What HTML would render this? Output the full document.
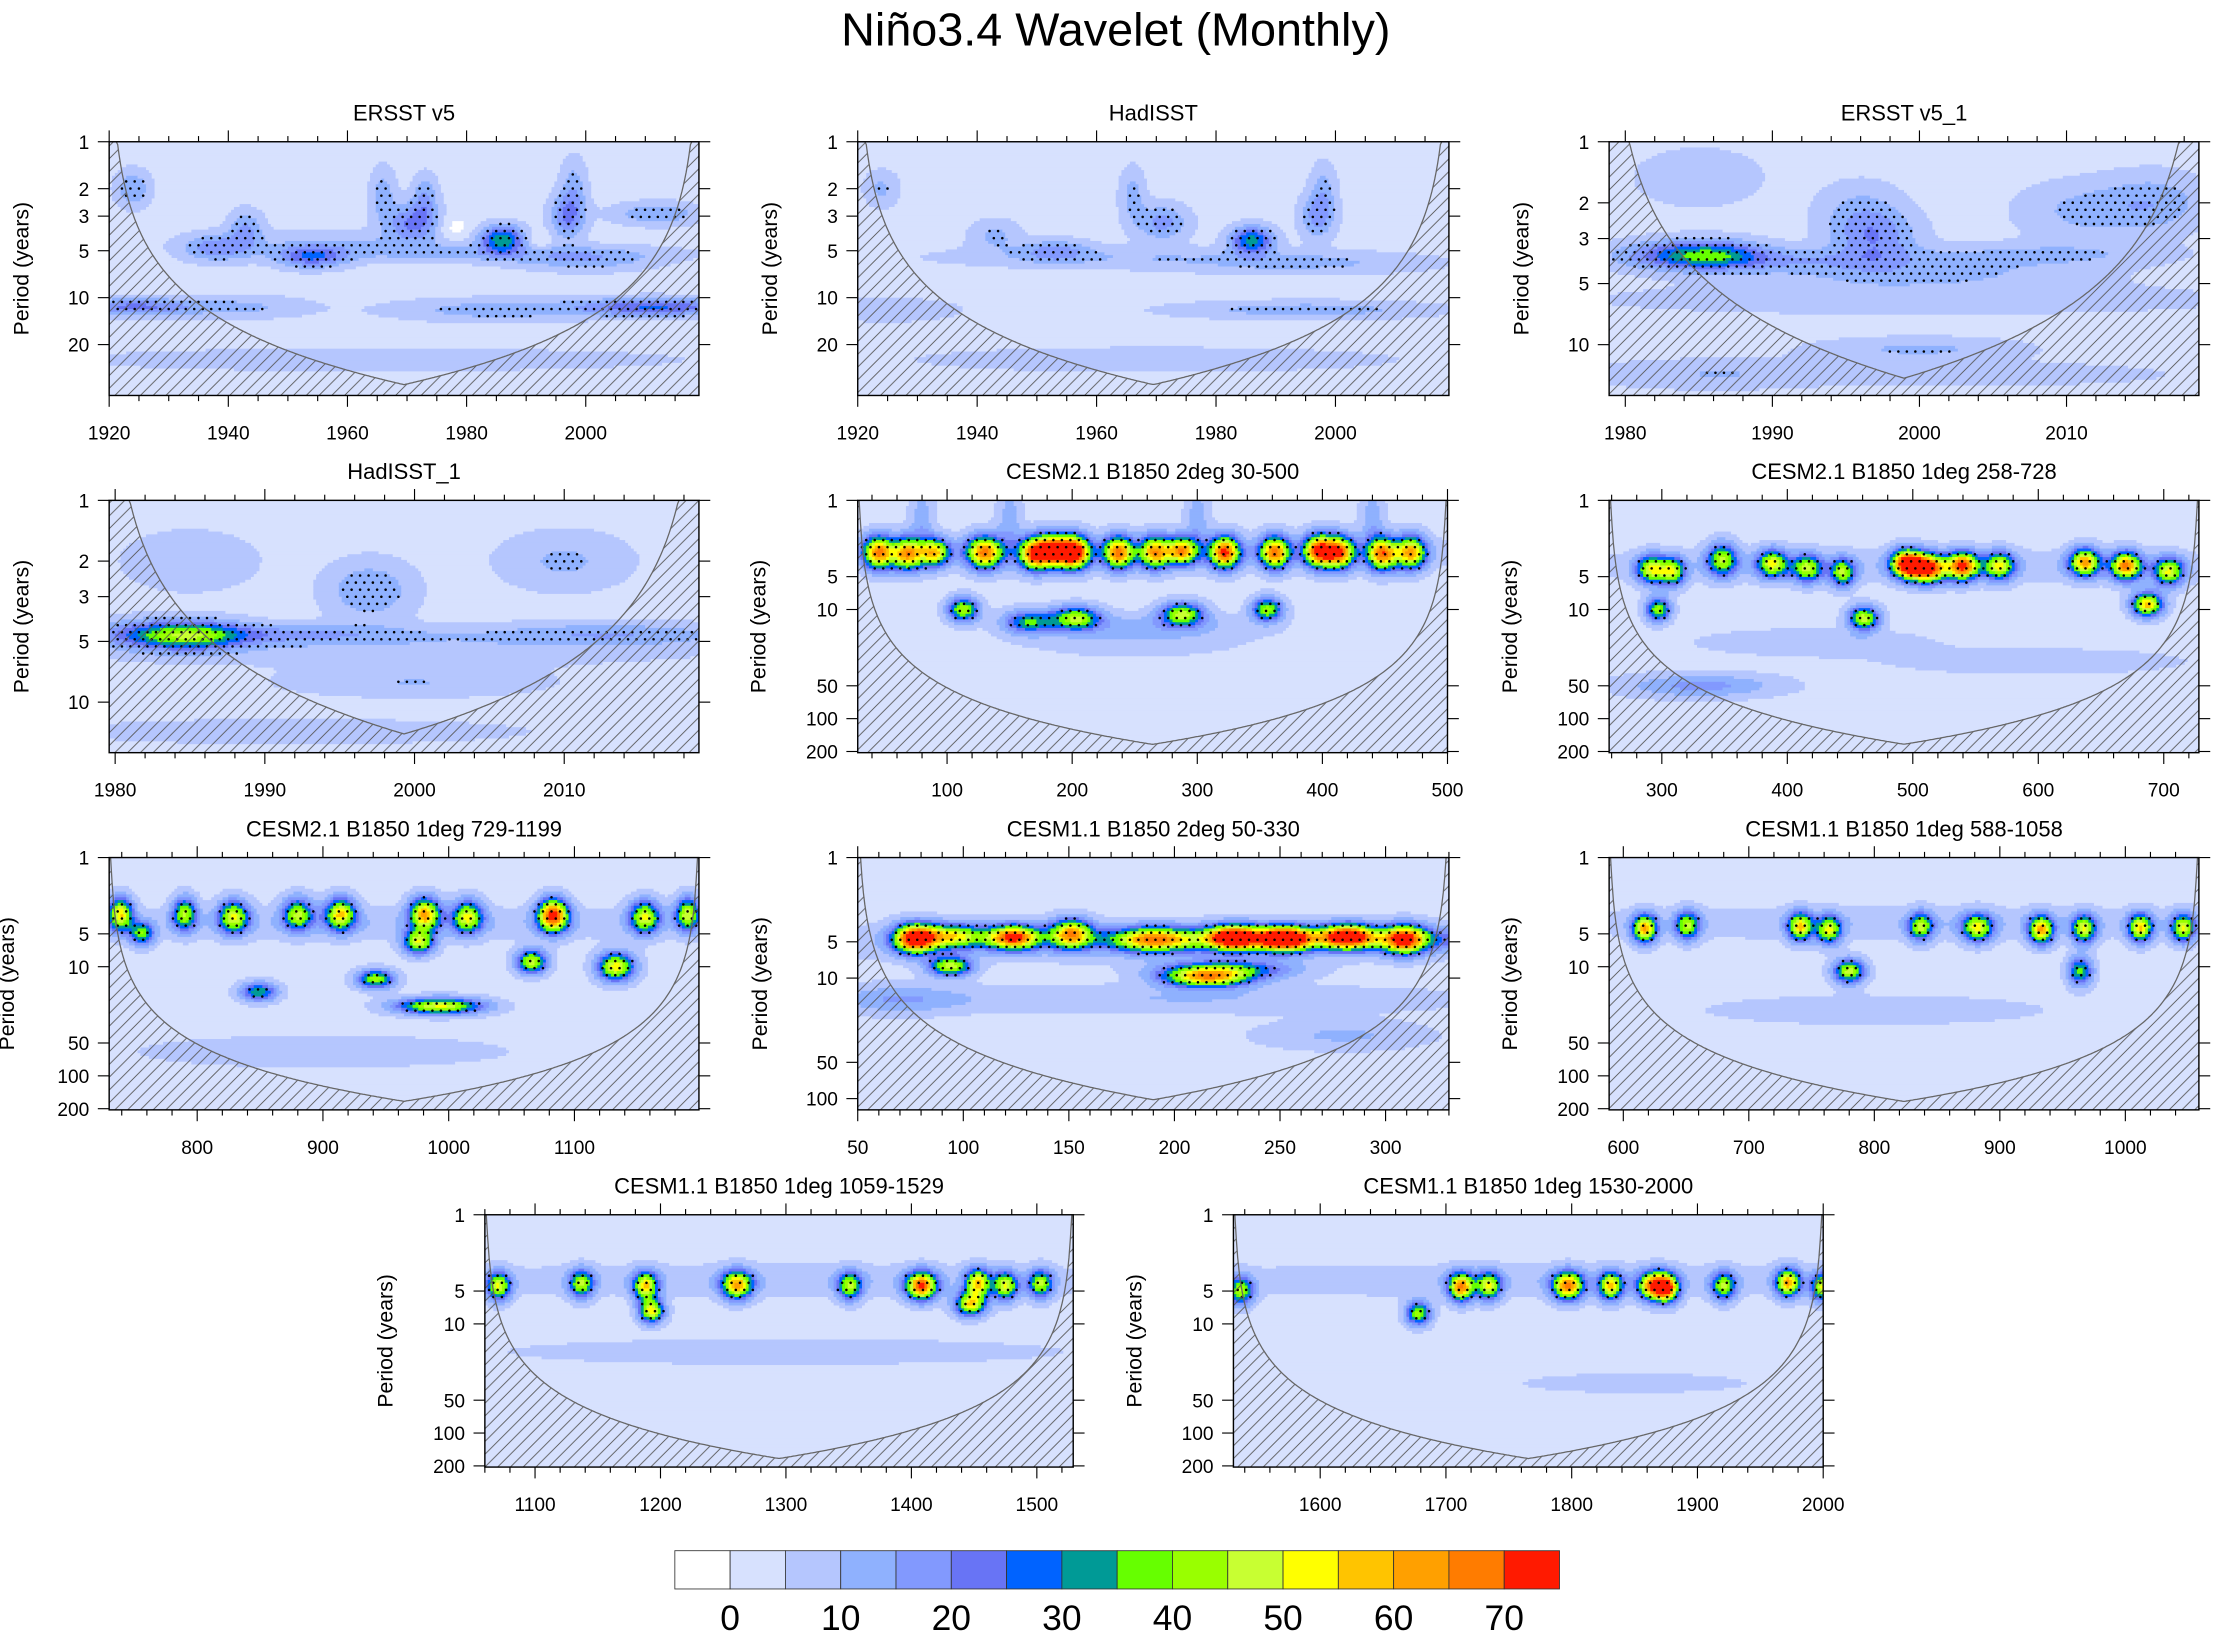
<!DOCTYPE html>
<html><head><meta charset="utf-8"><title>Niño3.4 Wavelet</title>
<style>html,body{margin:0;padding:0;background:#fff}svg{display:block;font-family:"Liberation Sans",Arial,sans-serif}</style>
</head><body>
<svg id="chart" xmlns="http://www.w3.org/2000/svg" width="2223" height="1640" viewBox="0 0 1568 1157" preserveAspectRatio="none">
<defs>
<pattern id="hatch" patternUnits="userSpaceOnUse" width="9" height="9">
<line x1="-1" y1="10" x2="10" y2="-1" stroke="#555" stroke-width="0.6"/>
<line x1="-1" y1="1" x2="1" y2="-1" stroke="#555" stroke-width="0.6"/>
<line x1="8" y1="10" x2="10" y2="8" stroke="#555" stroke-width="0.6"/>
</pattern>
</defs>
<text x="787" y="32" text-anchor="middle" font-size="33">Niño3.4 Wavelet (Monthly)</text>
<g id="panels"></g>
<g id="colorbar"></g>
</svg>
<script>
// ---- data: blobs [time, period(years), power, sigmaTime, sigmaLog10Period]
const ersstBlobs=[[1924,2,12,2,0.08],[1938,4.8,14,4,0.06],[1943,3.6,12,2,0.08],[1954,5.5,20,4,0.05],[1971,3.3,18,3,0.08],[1966,2.2,10,1.5,0.12],[1973,2.3,12,1.5,0.1],[1986,4.2,30,2.5,0.06],[1997,3,18,2,0.1],[1998,1.9,9,1.5,0.12],[2012,2.9,12,5,0.05],[1985,5.2,8,20,0.04],[1924,11.5,18,7,0.04],[1942,11.5,8,8,0.05],[2012,11.5,22,9,0.04],[1985,12,10,12,0.05],[1965,25,6,35,0.05],[2000,5.8,9,8,0.05],[1978,3.6,-6,2,0.06],[1992,4.4,-5,1.5,0.05],[1960,4.5,6,15,0.06]];
const hadisstBlobs=[[1924,2,8,2,0.08],[1943,4,8,3,0.07],[1953,5,12,4,0.05],[1971,3.3,14,3,0.08],[1966,2.2,9,1.5,0.12],[1986,4.3,30,2.5,0.06],[1997,3,14,2,0.1],[1998,2,8,1.5,0.12],[1960,5.5,6,20,0.05],[1995,12,10,15,0.04],[1925,12,7,8,0.05],[1995,6,8,15,0.05],[1970,25,5,30,0.06]];
const ersst1Blobs=[[1986,3.6,22,2.5,0.05],[1983,3.6,13,3,0.05],[1997,3,14,2,0.09],[1996,2.2,8,2,0.1],[1991,3.8,9,6,0.04],[2008,3.6,8,6,0.04],[2016,2,10,2.5,0.1],[2011,2.2,8,3,0.1],[2000,4.5,8,8,0.05],[2000,10.5,8,5,0.04],[1986,14,7,6,0.05],[2006,14,5,8,0.04],[1985,1.5,6,3,0.1],[2000,6,6,15,0.05]];
const hadisst1Blobs=[[1985,4.7,24,2.5,0.05],[1983,4.6,16,3.5,0.05],[1997,2.8,12,2,0.1],[1992,4.6,11,6,0.035],[2013,4.6,11,6,0.04],[2010,2,8,3,0.1],[2000,8,7,6,0.05],[1992,14,7,10,0.04],[1985,2,7,3,0.1],[2000,5.5,5,15,0.06]];
const cesm2a=[[45,3,60,5,0.07],[68,3.1,55,5,0.07],[90,3,50,5,0.06],[130,3,60,6,0.07],[169,3.1,55,5,0.07],[186,2.9,70,6,0.07],[203,3,65,5,0.07],[237,3,60,5,0.07],[266,3,55,5,0.07],[288,2.9,55,5,0.06],[322,3,65,5,0.07],[362,3,60,5,0.07],[397,2.9,65,5,0.07],[414,3,60,5,0.07],[448,3.1,60,5,0.07],[471,3,55,5,0.07],[265,3,6,220,0.1],[113,10,42,5,0.05],[203,12,40,8,0.05],[288,11,42,7,0.05],[356,10,40,5,0.05],[165,13,30,8,0.05],[260,14,8,60,0.08],[250,20,5,60,0.1],[80,1.5,10,4,0.15],[150,1.5,10,4,0.15],[300,1.5,10,4,0.15],[440,1.5,10,4,0.15]];
const cesm2b=[[292,4.3,45,5,0.06],[309,4.5,40,4,0.06],[348,3.5,40,5,0.07],[388,3.8,45,5,0.06],[416,4.2,40,5,0.06],[444,4.6,40,4,0.06],[495,3.8,70,5,0.06],[512,4.2,70,6,0.06],[540,4,65,5,0.06],[569,4,45,5,0.06],[637,3.7,55,5,0.06],[670,4,60,5,0.06],[704,4.5,45,5,0.06],[297,10,40,4,0.05],[461,12,45,5,0.05],[687,9,55,5,0.05],[331,50,14,25,0.05],[420,20,7,60,0.08],[600,30,6,80,0.08],[500,4,6,230,0.1]];
const cesm2c=[[739,3.3,50,4,0.07],[790,3.3,40,4,0.07],[829,3.5,45,5,0.07],[880,3.3,40,5,0.07],[914,3.3,50,5,0.07],[981,3.3,55,5,0.07],[1015,3.5,45,5,0.07],[1083,3.4,70,5,0.07],[1156,3.5,45,5,0.07],[1190,3.3,45,4,0.07],[756,5,35,4,0.05],[976,6,45,5,0.05],[1066,9,45,5,0.05],[1133,10,50,6,0.06],[849,17,32,6,0.04],[942,13,40,6,0.04],[993,23,48,14,0.035],[960,4,6,230,0.1],[900,60,6,100,0.1]];
const cesm1a=[[77,4.7,70,5,0.06],[95,4.5,45,8,0.05],[124,4.6,65,6,0.05],[151,4.3,55,5,0.06],[190,4.8,50,10,0.05],[228,4.6,70,6,0.05],[252,4.7,70,6,0.05],[282,4.5,60,6,0.05],[309,4.8,55,5,0.06],[270,4.7,25,40,0.05],[94,8,45,5,0.04],[215,10,50,10,0.04],[225,8.5,30,15,0.04],[190,5,8,150,0.1],[200,15,7,100,0.08],[280,30,8,20,0.06],[70,15,10,15,0.06]];
const cesm1b=[[617,4.5,55,4,0.06],[651,4.2,40,4,0.06],[741,4.3,50,4,0.06],[764,4.6,45,4,0.06],[837,4.3,40,4,0.06],[882,4.4,45,5,0.06],[933,4.6,55,4,0.06],[967,4.5,45,4,0.06],[1012,4.4,50,4,0.06],[1046,4.4,45,4,0.06],[780,11,45,5,0.05],[964,11,35,4,0.06],[820,4,6,230,0.1],[800,25,5,100,0.1]];
const cesm1c=[[1071,4.5,45,4,0.06],[1137,4.3,40,4,0.06],[1188,4.5,50,4,0.06],[1193,7.6,50,4,0.05],[1261,4.4,55,5,0.06],[1351,4.5,40,4,0.06],[1408,4.5,65,5,0.06],[1447,6.6,50,5,0.05],[1453,4.2,50,4,0.06],[1475,4.5,45,4,0.06],[1503,4.3,40,4,0.06],[1300,4,6,230,0.1],[1300,18,6,150,0.08]];
const cesm1d=[[1537,5,40,4,0.06],[1678,8,40,4,0.05],[1712,4.6,60,4,0.06],[1734,4.5,45,4,0.06],[1797,4.5,60,5,0.06],[1831,4.5,50,4,0.06],[1865,4.5,60,5,0.06],[1876,4.7,55,4,0.06],[1921,4.5,40,4,0.06],[1972,4.2,55,4,0.06],[2000,4.6,45,4,0.06],[1760,4,6,230,0.1],[1850,35,6,60,0.06]];
const levelColors=["#ffffff","#d7e1fe","#b5c6fe","#8fb1fe","#8299fe","#6874f5","#0063ff","#009a96","#66ff00","#99ff00","#c8ff32","#ffff00","#ffc400","#ffa000","#ff7c00","#ff1a00"];
const colorbarLabels=["0","10","20","30","40","50","60","70"];
const yTicksObsA=[1,2,3,5,10,20];
const yTicksObsB=[1,2,3,5,10];
const yTicksModel=[1,5,10,50,100,200];
const yTicksModelB=[1,5,10,50,100];

const panels=[
 {id:"ersst-v5",title:"ERSST v5",x0:77,x1:493,y0:100,y1:279,t0:1920,t1:2019,pmax:42.4,yt:yTicksObsA,xt:[1920,1940,1960,1980,2000],mn:5,b:ersstBlobs,thr:10,yo:57,sf:1,lf:1},
 {id:"hadisst",title:"HadISST",x0:605,x1:1022,y0:100,y1:279,t0:1920,t1:2019,pmax:42.4,yt:yTicksObsA,xt:[1920,1940,1960,1980,2000],mn:5,b:hadisstBlobs,thr:10,yo:57,sf:1,lf:1},
 {id:"ersst-v5-1",title:"ERSST v5_1",x0:1135,x1:1551,y0:100,y1:279,t0:1978.9,t1:2019,pmax:17.8,yt:yTicksObsB,xt:[1980,1990,2000,2010],mn:2,b:ersst1Blobs,thr:10,yo:57,sf:1,lf:1},
 {id:"hadisst-1",title:"HadISST_1",x0:77,x1:493,y0:353,y1:531,t0:1979.6,t1:2019,pmax:17.8,yt:yTicksObsB,xt:[1980,1990,2000,2010],mn:2,b:hadisst1Blobs,thr:10,yo:57,sf:1,lf:1},
 {id:"cesm21-2deg",title:"CESM2.1 B1850 2deg 30-500",x0:605,x1:1021,y0:353,y1:531,t0:28.6,t1:500,pmax:205,yt:yTicksModel,xt:[100,200,300,400,500],mn:20,b:cesm2a,thr:20,yo:65,sf:1.7,lf:1.5},
 {id:"cesm21-1deg-a",title:"CESM2.1 B1850 1deg 258-728",x0:1135,x1:1551,y0:353,y1:531,t0:258,t1:728,pmax:205,yt:yTicksModel,xt:[300,400,500,600,700],mn:20,b:cesm2b,thr:20,yo:65,sf:1.7,lf:1.5},
 {id:"cesm21-1deg-b",title:"CESM2.1 B1850 1deg 729-1199",x0:77,x1:493,y0:605,y1:783,t0:730,t1:1199,pmax:205,yt:yTicksModel,xt:[800,900,1000,1100],mn:20,b:cesm2c,thr:20,yo:67,sf:1.7,lf:1.5},
 {id:"cesm11-2deg",title:"CESM1.1 B1850 2deg 50-330",x0:605,x1:1022,y0:605,y1:783,t0:50,t1:330,pmax:124,yt:yTicksModelB,xt:[50,100,150,200,250,300],mn:10,b:cesm1a,thr:20,yo:64,sf:1.4,lf:1.4},
 {id:"cesm11-1deg-a",title:"CESM1.1 B1850 1deg 588-1058",x0:1135,x1:1551,y0:605,y1:783,t0:588.7,t1:1058.6,pmax:205,yt:yTicksModel,xt:[600,700,800,900,1000],mn:20,b:cesm1b,thr:20,yo:65,sf:1.7,lf:1.5},
 {id:"cesm11-1deg-b",title:"CESM1.1 B1850 1deg 1059-1529",x0:342,x1:757,y0:857,y1:1035,t0:1060,t1:1529,pmax:205,yt:yTicksModel,xt:[1100,1200,1300,1400,1500],mn:20,b:cesm1c,thr:20,yo:65,sf:1.7,lf:1.5},
 {id:"cesm11-1deg-c",title:"CESM1.1 B1850 1deg 1530-2000",x0:870,x1:1286,y0:857,y1:1035,t0:1531,t1:2000,pmax:205,yt:yTicksModel,xt:[1600,1700,1800,1900,2000],mn:20,b:cesm1d,thr:20,yo:65,sf:1.7,lf:1.5}
];
const NS="http://www.w3.org/2000/svg";
function mk(tag,attrs,parent){const e=document.createElementNS(NS,tag);for(const k in attrs)e.setAttribute(k,attrs[k]);if(parent)parent.appendChild(e);return e;}
const root=document.getElementById("panels");
panels.forEach(P=>{
 const g=mk("g",{},root);
 
 
 const xs=t=>P.x0+(t-P.t0)/(P.t1-P.t0)*(P.x1-P.x0);
 const ys=p=>P.y0+Math.log10(p)/Math.log10(P.pmax)*(P.y1-P.y0);
 const tOf=x=>P.t0+(x-P.x0)/(P.x1-P.x0)*(P.t1-P.t0);
 const lpOf=y=>(y-P.y0)/(P.y1-P.y0)*Math.log10(P.pmax);
 const field=(t,lp)=>{let v=3;for(const b of P.b){const wide=b[3]>50;const dt=(t-b[0])/(b[3]*(wide?1:P.sf)),dl=(lp-Math.log10(b[1]))/(b[4]*(wide?1:P.lf));const e=0.5*(dt*dt+dl*dl);if(e<12)v+=b[2]*Math.exp(-e);}return v;};
 const cid="clip-"+P.id;
 const cp=mk("clipPath",{id:cid},g);mk("rect",{x:P.x0,y:P.y0,width:P.x1-P.x0,height:P.y1-P.y0},cp);
 const fg=mk("g",{"clip-path":"url(#"+cid+")"},g);
 
 
 const d=2;
 for(let y=P.y0;y<P.y1;y+=d){
  const lp=lpOf(y+d/2);let runStart=P.x0,runLev=-1;
  for(let x=P.x0;x<=P.x1+d;x+=d){
   let lev=-2;
   if(x<P.x1){const v=field(tOf(x+d/2),lp);lev=v<0?0:Math.min(15,Math.floor(v/5)+1);}
   if(lev!==runLev){
    if(runLev>=0){mk("rect",{x:runStart,y:y,width:x-runStart+0.4,height:d+0.4,fill:levelColors[runLev]},fg);}
    runStart=x;runLev=lev;
   }
  }
 }
 const sg=mk("g",{"clip-path":"url(#"+cid+")",fill:"#000"},g);
 
 
 let row=0;
 for(let y=P.y0+3;y<P.y1;y+=5,row++){
  const lp=lpOf(y);
  for(let x=P.x0+3+(row%2)*3;x<P.x1;x+=6){
   if(field(tOf(x),lp)>P.thr)mk("circle",{cx:x,cy:y,r:0.9},sg);
  }
 }
 let pts=[];
 for(let x=P.x0;x<=P.x1;x+=1){
  const t=tOf(x);const dist=Math.min(t-P.t0,P.t1-t);const p=0.73*Math.max(dist,0.0001);
  let y=ys(p);y=Math.max(P.y0,Math.min(P.y1,y));pts.push(x.toFixed(1)+","+y.toFixed(1));
 }
 const poly=mk("polygon",{points:pts.join(" ")+" "+P.x1+","+P.y1+" "+P.x0+","+P.y1,fill:"url(#hatch)",stroke:"none","clip-path":"url(#"+cid+")"},g);
 
 
 const coi=mk("polyline",{points:pts.join(" "),fill:"none",stroke:"#666","stroke-width":0.9,"clip-path":"url(#"+cid+")"},g);
 
 
 const fr=mk("rect",{x:P.x0,y:P.y0,width:P.x1-P.x0,height:P.y1-P.y0,fill:"none",stroke:"#000","stroke-width":1},g);
 
 
 const ax=mk("g",{stroke:"#000","stroke-width":0.8},g);
 
 
 const first=Math.ceil(P.t0/P.mn)*P.mn;
 for(let t=first;t<=P.t1+1e-6;t+=P.mn){
  const x=xs(t);const major=P.xt.includes(t);const L=major?8:4;
  mk("line",{x1:x,y1:P.y1,x2:x,y2:P.y1+L},ax);mk("line",{x1:x,y1:P.y0,x2:x,y2:P.y0-L},ax);
 }
 P.xt.forEach(t=>{const tx=mk("text",{x:xs(t),y:P.y1+31,"text-anchor":"middle","font-size":13.5},g);tx.textContent=t;
  
  });
 P.yt.forEach(p=>{const y=ys(p);
  mk("line",{x1:P.x0-8,y1:y,x2:P.x0,y2:y},ax);mk("line",{x1:P.x1,y1:y,x2:P.x1+8,y2:y},ax);
  const tx=mk("text",{x:P.x0-14,y:y+5,"text-anchor":"end","font-size":13.5},g);tx.textContent=p;
  
  });
 const yt=mk("text",{x:P.x0-P.yo,y:(P.y0+P.y1)/2,"text-anchor":"middle","font-size":15,transform:"rotate(-90 "+(P.x0-P.yo)+" "+((P.y0+P.y1)/2)+")"},g);
 yt.textContent="Period (years)";
 
 
 const tt=mk("text",{x:(P.x0+P.x1)/2,y:P.y0-15,"text-anchor":"middle","font-size":15.5},g);
 tt.textContent=P.title;
 
 
});
const cb=document.getElementById("colorbar");
const cbx=476,cbw=39,cby=1094,cbh=27;
levelColors.forEach((c,i)=>{const r=mk("rect",{x:cbx+i*cbw,y:cby,width:cbw,height:cbh,fill:c,stroke:"#333","stroke-width":0.6},cb);
 
 });
colorbarLabels.forEach((l,i)=>{const tx=mk("text",{x:cbx+(1+2*i)*cbw,y:1150,"text-anchor":"middle","font-size":25},cb);tx.textContent=l;
 
 });
</script>
</body></html>
